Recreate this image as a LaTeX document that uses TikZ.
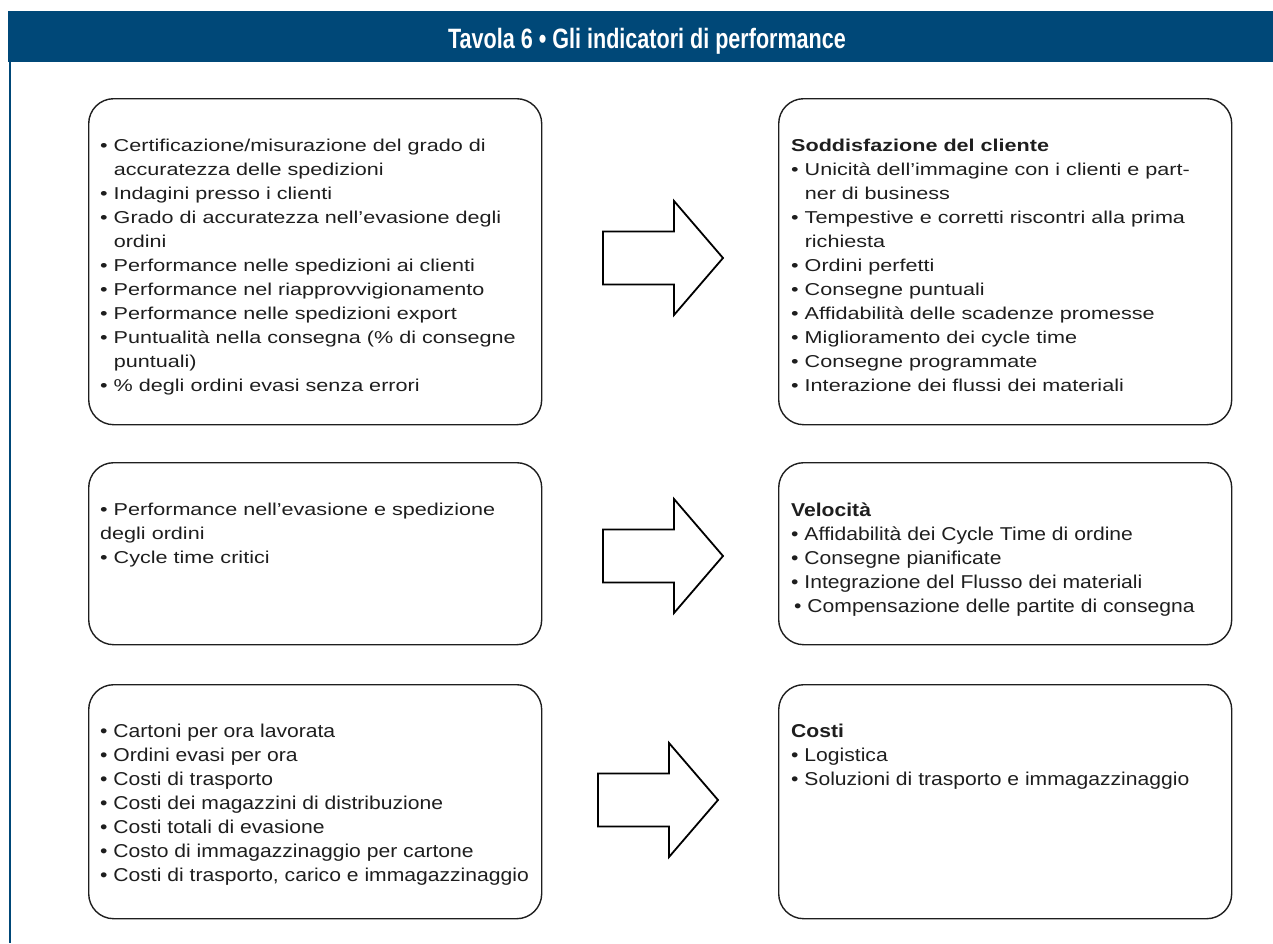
\documentclass[tikz,border=0pt]{standalone}
\usepackage{fontspec}
\setmainfont{Liberation Sans}
\newfontfamily\widefont[FakeStretch=1.255]{Liberation Sans}
\newfontfamily\narrowfont[FakeStretch=1.135]{Liberation Sans}
\newfontfamily\titlefont[FakeStretch=0.77]{Liberation Sans}
\definecolor{headblue}{RGB}{0,72,120}
\definecolor{ink}{RGB}{30,30,30}
\newcommand{\ind}{\phantom{•}\ }

\begin{document}
\begin{tikzpicture}[x=1pt, y=-1pt,
  panel/.style={draw=ink, line width=1.4pt, rounded corners=25pt, minimum width=453pt, anchor=north west, inner sep=0pt},
  widetext/.style={anchor=north west, inner sep=0pt, align=left, text=ink, font=\widefont\fontsize{17.2}{24}\selectfont},
  narrowtext/.style={anchor=north west, inner sep=0pt, align=left, text=ink, font=\narrowfont\fontsize{18.6}{24}\selectfont},
  bigarrow/.style={draw=black, line width=1.8pt, line join=miter}]
\useasboundingbox (0,0) rectangle (1273,943);

  % header
  \fill[headblue] (8,11) rectangle (1273,62);
  \draw[headblue, line width=2pt] (9.5,62) -- (9.5,943);
  \node[anchor=base, text=white, font=\titlefont\bfseries\fontsize{28}{30}\selectfont] (title) at (647,48) {Tavola 6 • Gli indicatori di performance};

  % boxes
  \foreach \n/\x/\y/\h in {L1/88/98/326, R1/778/98/326, L2/88/462/182, R2/778/462/182, L3/88/684/234, R3/778/684/234}
  {
  \node[panel, minimum height=\h pt] (\n) at (\x,\y) {};
  }

  % block arrows
  \foreach \ax/\ay in {603/258, 603/556, 598/800}
  {
  \draw[bigarrow] (\ax,\ay-26.5) -- ++(71,0) -- ++(0,-30.5) -- ++(49,57) -- ++(-49,57) -- ++(0,-30.5) -- ++(-71,0) -- cycle;
  }

  \node[widetext] (t1) at ([shift={(12,36.2)}]L1.north west) {\strut• Certificazione/misurazione del grado di\\
    \ind accuratezza delle spedizioni\\
    • Indagini presso i clienti\\
    • Grado di accuratezza nell’evasione degli\\
    \ind ordini\\
    • Performance nelle spedizioni ai clienti\\
    • Performance nel riapprovvigionamento\\
    • Performance nelle spedizioni export\\
    • Puntualità nella consegna (\% di consegne\\
    \ind puntuali)\\
    • \% degli ordini evasi senza errori};
  \node[widetext] (s1) at ([shift={(13,36.2)}]R1.north west) {\strut\textbf{Soddisfazione del cliente}\\
    • Unicità dell’immagine con i clienti e part-\\
    \ind ner di business\\
    • Tempestive e corretti riscontri alla prima\\
    \ind richiesta\\
    • Ordini perfetti\\
    • Consegne puntuali\\
    • Affidabilità delle scadenze promesse\\
    • Miglioramento dei cycle time\\
    • Consegne programmate\\
    • Interazione dei flussi dei materiali};

  \node[widetext] (t2) at ([shift={(12,36.2)}]L2.north west) {\strut• Performance nell’evasione e spedizione\\
    degli ordini\\
    • Cycle time critici};
  \node[narrowtext] (s2) at ([shift={(13,37.2)}]R2.north west) {\strut\textbf{Velocità}\\
    • Affidabilità dei Cycle Time di ordine\\
    • Consegne pianificate\\
    • Integrazione del Flusso dei materiali\\
    \hspace*{3pt}• Compensazione delle partite di consegna};

  \node[narrowtext] (t3) at ([shift={(12,36.2)}]L3.north west) {\strut• Cartoni per ora lavorata\\
    • Ordini evasi per ora\\
    • Costi di trasporto\\
    • Costi dei magazzini di distribuzione\\
    • Costi totali di evasione\\
    • Costo di immagazzinaggio per cartone\\
    • Costi di trasporto, carico e immagazzinaggio};
  \node[narrowtext] (s3) at ([shift={(13,36.2)}]R3.north west) {\strut\textbf{Costi}\\
    • Logistica\\
    • Soluzioni di trasporto e immagazzinaggio};

\end{tikzpicture}
\end{document}
